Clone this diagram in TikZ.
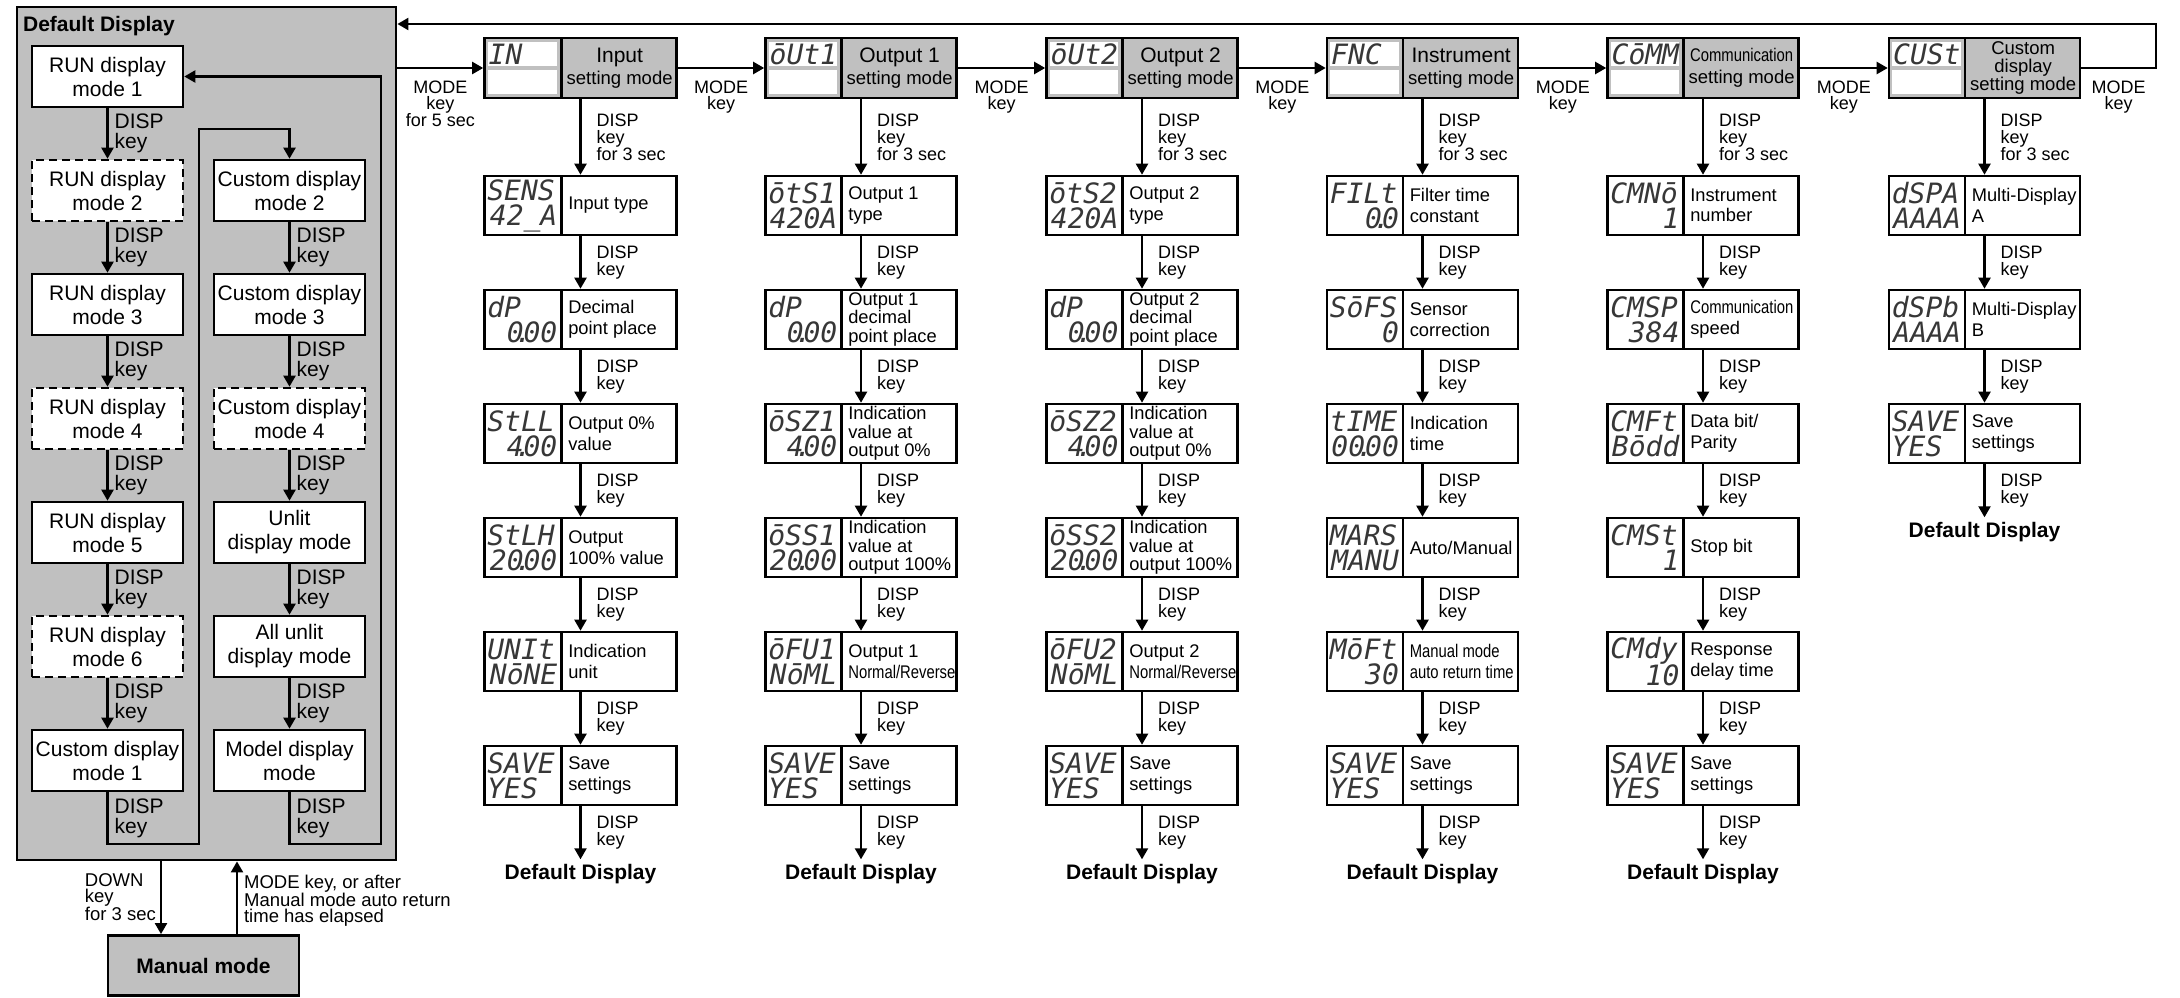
\documentclass[tikz,border=0pt]{standalone}
\usepackage{fontspec}
\setmainfont{Liberation Sans}
\newfontfamily\segfont{DejaVu Sans Mono}
\newfontfamily\narrowfont{Liberation Sans}[FakeStretch=0.81]
\usetikzlibrary{arrows.meta,positioning}
\definecolor{panelgray}{RGB}{192,192,192}
\definecolor{segink}{RGB}{55,55,55}
\setlength{\fboxsep}{0pt}

% widths of the current column (display cell, whole box)
\newcommand{\dispw}{76}
\newcommand{\boxw}{191}
\newcommand{\dpt}{\makebox[0pt]{.}}
\newcommand{\segtext}{\segfont\itshape\color{segink}}
\newcommand{\divider}[1]{$\vcenter{\hbox{\vrule width 2.6pt height #1pt}}$}
% display cell | description
\newcommand{\param}[4][r]{%
  \makebox[\dimexpr\dispw pt-1.3pt\relax]{\parbox[c][54pt][c]{\dimexpr\dispw pt-7pt\relax}{%
    \segtext\fontsize{28}{25}\selectfont #2\par\makebox[\linewidth][#1]{#3}}}%
  \divider{59}\hspace{5.5pt}%
  \parbox[c]{\dimexpr\boxw pt-\dispw pt-6.8pt\relax}{\raggedright #4}}
% header of a setting mode
\newcommand{\modehead}[2]{%
  \makebox[\dimexpr\dispw pt-1.3pt\relax]{$\vcenter{\offinterlineskip
    \hbox{\colorbox{white}{\parbox[c][24pt][c]{\dimexpr\dispw pt-7.6pt\relax}{\segtext\fontsize{28}{27}\selectfont\hspace*{1pt}#1}}}
    \kern4pt
    \hbox{\colorbox{white}{\rule{0pt}{24pt}\hspace*{\dimexpr\dispw pt-7.6pt\relax}}}}$}%
  \divider{60}%
  \parbox[c]{\dimexpr\boxw pt-\dispw pt-1.3pt\relax}{\centering #2}}

\begin{document}
\begin{tikzpicture}[x=1pt, y=-1pt, ->, >={Triangle[width=12pt,length=11pt]}, line width=2.2pt, node distance=52.4pt]
\tikzstyle{panel}=[draw, line width=2.8pt, fill=panelgray, inner sep=0pt, minimum width=379pt, minimum height=853pt]
\tikzstyle{runbox}=[draw, line width=2.6pt, fill=white, inner sep=0pt, minimum width=151pt, minimum height=61pt, align=center, font=\fontsize{21}{24}\selectfont]
\tikzstyle{optbox}=[runbox, dash pattern=on 8pt off 5pt]
\tikzstyle{manualbox}=[draw, line width=2.8pt, fill=panelgray, inner sep=0pt, minimum width=191pt, minimum height=60pt, font=\bfseries\fontsize{21}{24}\selectfont]
\tikzstyle{headbox}=[draw, line width=2.6pt, fill=panelgray, inner sep=0pt]
\tikzstyle{pbox}=[draw, line width=2.6pt, fill=white, inner sep=0pt, font=\fontsize{18.3}{20.5}\selectfont]
\tikzstyle{pkey}=[right, xshift=6pt, inner sep=0pt, align=left, font=\fontsize{21}{19.5}\selectfont]
\tikzstyle{dkey}=[right, xshift=15pt, inner sep=0pt, align=left, font=\fontsize{18}{17}\selectfont]
\tikzstyle{mkey}=[below, yshift=-12pt, inner sep=0pt, align=center, font=\fontsize{18}{15.5}\selectfont]
\tikzstyle{back}=[inner sep=4pt, font=\bfseries\fontsize{21}{24}\selectfont]
\tikzstyle{note}=[inner sep=0pt, align=left, font=\fontsize{18.5}{16}\selectfont]
\useasboundingbox (0,0) rectangle (2180,998);

% default display
\node[panel] (defdisp) at (206.5,433.5) {};
\node[anchor=west, inner sep=0pt, font=\bfseries\fontsize{21}{24}\selectfont] (ddtitle) at (22,26) {Default Display};
\node[runbox] (run1) at (107.5,76.5) {RUN display\\mode 1};
\node[optbox, below=50.4pt of run1] (run2) {RUN display\\mode 2};
\node[runbox, below=50.4pt of run2] (run3) {RUN display\\mode 3};
\node[optbox, below=50.4pt of run3] (run4) {RUN display\\mode 4};
\node[runbox, below=50.4pt of run4] (run5) {RUN display\\mode 5};
\node[optbox, below=50.4pt of run5] (run6) {RUN display\\mode 6};
\node[runbox, below=50.4pt of run6] (cus1) {Custom display\\mode 1};
\node[runbox, right=28.4pt of run2] (cus2) {Custom display\\mode 2};
\node[runbox, below=50.4pt of cus2] (cus3) {Custom display\\mode 3};
\node[optbox, below=50.4pt of cus3] (cus4) {Custom display\\mode 4};
\node[runbox, below=50.4pt of cus4] (unlit) {Unlit\\display mode};
\node[runbox, below=50.4pt of unlit] (allunlit) {All unlit\\display mode};
\node[runbox, below=50.4pt of allunlit] (model) {Model display\\mode};
\coordinate (lpA) at (199,844);
\coordinate (lpB) at (199,129);
\coordinate (lpC) at (381,844);
\draw (run1) -- node[pkey] {DISP\\key} (run2);
\draw (run2) -- node[pkey] {DISP\\key} (run3);
\draw (run3) -- node[pkey] {DISP\\key} (run4);
\draw (run4) -- node[pkey] {DISP\\key} (run5);
\draw (run5) -- node[pkey] {DISP\\key} (run6);
\draw (run6) -- node[pkey] {DISP\\key} (cus1);
\draw (cus1.south) -- node[pkey] {DISP\\key} (cus1.south |- lpA) -- (lpA) -- (lpB) -| (cus2.north);
\draw (cus2) -- node[pkey] {DISP\\key} (cus3);
\draw (cus3) -- node[pkey] {DISP\\key} (cus4);
\draw (cus4) -- node[pkey] {DISP\\key} (unlit);
\draw (unlit) -- node[pkey] {DISP\\key} (allunlit);
\draw (allunlit) -- node[pkey] {DISP\\key} (model);
\draw (model.south) -- node[pkey] {DISP\\key} (model.south |- lpC) -- (lpC) |- (run1.east);

% manual mode
\node[manualbox] (manual) at (203.5,965.5) {Manual mode};
\draw ([xshift=-42.5pt]manual.north |- defdisp.south) -- ([xshift=-42.5pt]manual.north);
\draw ([xshift=33.5pt]manual.north) -- ([xshift=33.5pt]manual.north |- defdisp.south);
\node[note, anchor=east] (downlbl) at (157,897) {DOWN\\key\\for 3 sec};
\node[note, anchor=west] (modelbl) at (243,901) {MODE key, or after\\Manual mode auto return\\time has elapsed};

% input setting mode
\renewcommand{\dispw}{77}\renewcommand{\boxw}{192}
\node[headbox] (inh) at (580.5,68) {\modehead{IN}{\fontsize{21}{22}\selectfont Input\\\fontsize{18.5}{22}\selectfont setting mode}};
\node[pbox, below=75.4pt of inh] (in1) {\param{SENS}{42\_A}{Input type}};
\node[pbox, below=of in1] (in2) {\param{dP}{0\dpt00}{Decimal\\point place}};
\node[pbox, below=of in2] (in3) {\param{StLL}{4\dpt00}{Output 0\%\\value}};
\node[pbox, below=of in3] (in4) {\param{StLH}{20\dpt00}{Output\\100\% value}};
\node[pbox, below=of in4] (in5) {\param{UNIt}{NōNE}{Indication\\unit}};
\node[pbox, below=of in5] (in6) {\param[l]{SAVE}{YES}{Save\\settings}};
\node[back, below=53pt of in6] (in7) {Default Display};
\draw (defdisp.east |- inh.west) -- node[mkey] {MODE\\key\\for 5 sec} (inh.west);
\draw (inh) -- node[dkey] {DISP\\key\\for 3 sec} (in1);
\draw (in1) -- node[dkey] {DISP\\key} (in2);
\draw (in2) -- node[dkey] {DISP\\key} (in3);
\draw (in3) -- node[dkey] {DISP\\key} (in4);
\draw (in4) -- node[dkey] {DISP\\key} (in5);
\draw (in5) -- node[dkey] {DISP\\key} (in6);
\draw (in6) -- node[dkey] {DISP\\key} (in7);

% output 1 setting mode
\renewcommand{\dispw}{76}\renewcommand{\boxw}{191}
\node[headbox] (oah) at (861,68) {\modehead{ōUt1}{\fontsize{21}{22}\selectfont Output 1\\\fontsize{18.5}{22}\selectfont setting mode}};
\node[pbox, below=75.4pt of oah] (oa1) {\param{ōtS1}{420A}{Output 1\\type}};
\node[pbox, below=of oa1] (oa2) {\param{dP}{0\dpt00}{\fontsize{18.3}{18.5}\selectfont Output 1\\decimal\\point place}};
\node[pbox, below=of oa2] (oa3) {\param{ōSZ1}{4\dpt00}{\fontsize{18.3}{18.5}\selectfont Indication\\value at\\output 0\%}};
\node[pbox, below=of oa3] (oa4) {\param{ōSS1}{20\dpt00}{\fontsize{18.3}{18.5}\selectfont Indication\\value at\\output 100\%}};
\node[pbox, below=of oa4] (oa5) {\param{ōFU1}{NōML}{Output 1\\\narrowfont Normal/Reverse}};
\node[pbox, below=of oa5] (oa6) {\param[l]{SAVE}{YES}{Save\\settings}};
\node[back, below=53pt of oa6] (oa7) {Default Display};
\draw (inh) -- node[mkey] {MODE\\key} (oah);
\draw (oah) -- node[dkey] {DISP\\key\\for 3 sec} (oa1);
\draw (oa1) -- node[dkey] {DISP\\key} (oa2);
\draw (oa2) -- node[dkey] {DISP\\key} (oa3);
\draw (oa3) -- node[dkey] {DISP\\key} (oa4);
\draw (oa4) -- node[dkey] {DISP\\key} (oa5);
\draw (oa5) -- node[dkey] {DISP\\key} (oa6);
\draw (oa6) -- node[dkey] {DISP\\key} (oa7);

% output 2 setting mode
\node[headbox] (obh) at (1142,68) {\modehead{ōUt2}{\fontsize{21}{22}\selectfont Output 2\\\fontsize{18.5}{22}\selectfont setting mode}};
\node[pbox, below=75.4pt of obh] (ob1) {\param{ōtS2}{420A}{Output 2\\type}};
\node[pbox, below=of ob1] (ob2) {\param{dP}{0\dpt00}{\fontsize{18.3}{18.5}\selectfont Output 2\\decimal\\point place}};
\node[pbox, below=of ob2] (ob3) {\param{ōSZ2}{4\dpt00}{\fontsize{18.3}{18.5}\selectfont Indication\\value at\\output 0\%}};
\node[pbox, below=of ob3] (ob4) {\param{ōSS2}{20\dpt00}{\fontsize{18.3}{18.5}\selectfont Indication\\value at\\output 100\%}};
\node[pbox, below=of ob4] (ob5) {\param{ōFU2}{NōML}{Output 2\\\narrowfont Normal/Reverse}};
\node[pbox, below=of ob5] (ob6) {\param[l]{SAVE}{YES}{Save\\settings}};
\node[back, below=53pt of ob6] (ob7) {Default Display};
\draw (oah) -- node[mkey] {MODE\\key} (obh);
\draw (obh) -- node[dkey] {DISP\\key\\for 3 sec} (ob1);
\draw (ob1) -- node[dkey] {DISP\\key} (ob2);
\draw (ob2) -- node[dkey] {DISP\\key} (ob3);
\draw (ob3) -- node[dkey] {DISP\\key} (ob4);
\draw (ob4) -- node[dkey] {DISP\\key} (ob5);
\draw (ob5) -- node[dkey] {DISP\\key} (ob6);
\draw (ob6) -- node[dkey] {DISP\\key} (ob7);

% instrument setting mode
\node[headbox] (fnh) at (1422.5,68) {\modehead{FNC}{\fontsize{21}{22}\selectfont Instrument\\\fontsize{18.5}{22}\selectfont setting mode}};
\node[pbox, below=75.4pt of fnh] (fn1) {\param{FILt}{0\dpt0}{Filter time\\constant}};
\node[pbox, below=of fn1] (fn2) {\param{SōFS}{0}{Sensor\\correction}};
\node[pbox, below=of fn2] (fn3) {\param{tIME}{00\dpt00}{Indication\\time}};
\node[pbox, below=of fn3] (fn4) {\param{MARS}{MANU}{Auto/Manual}};
\node[pbox, below=of fn4] (fn5) {\param{MōFt}{30}{\narrowfont Manual mode\\auto return time}};
\node[pbox, below=of fn5] (fn6) {\param[l]{SAVE}{YES}{Save\\settings}};
\node[back, below=53pt of fn6] (fn7) {Default Display};
\draw (obh) -- node[mkey] {MODE\\key} (fnh);
\draw (fnh) -- node[dkey] {DISP\\key\\for 3 sec} (fn1);
\draw (fn1) -- node[dkey] {DISP\\key} (fn2);
\draw (fn2) -- node[dkey] {DISP\\key} (fn3);
\draw (fn3) -- node[dkey] {DISP\\key} (fn4);
\draw (fn4) -- node[dkey] {DISP\\key} (fn5);
\draw (fn5) -- node[dkey] {DISP\\key} (fn6);
\draw (fn6) -- node[dkey] {DISP\\key} (fn7);

% communication setting mode
\node[headbox] (cmh) at (1703,68) {\modehead{CōMM}{\narrowfont\fontsize{18.3}{22}\selectfont Communication\\\rmfamily\fontsize{18.5}{22}\selectfont setting mode}};
\node[pbox, below=75.4pt of cmh] (cm1) {\param{CMNō}{1}{Instrument\\number}};
\node[pbox, below=of cm1] (cm2) {\param{CMSP}{384}{{\narrowfont Communication}\\speed}};
\node[pbox, below=of cm2] (cm3) {\param{CMFt}{Bōdd}{Data bit/\\Parity}};
\node[pbox, below=of cm3] (cm4) {\param{CMSt}{1}{Stop bit}};
\node[pbox, below=of cm4] (cm5) {\param{CMdy}{10}{Response\\delay time}};
\node[pbox, below=of cm5] (cm6) {\param[l]{SAVE}{YES}{Save\\settings}};
\node[back, below=53pt of cm6] (cm7) {Default Display};
\draw (fnh) -- node[mkey] {MODE\\key} (cmh);
\draw (cmh) -- node[dkey] {DISP\\key\\for 3 sec} (cm1);
\draw (cm1) -- node[dkey] {DISP\\key} (cm2);
\draw (cm2) -- node[dkey] {DISP\\key} (cm3);
\draw (cm3) -- node[dkey] {DISP\\key} (cm4);
\draw (cm4) -- node[dkey] {DISP\\key} (cm5);
\draw (cm5) -- node[dkey] {DISP\\key} (cm6);
\draw (cm6) -- node[dkey] {DISP\\key} (cm7);

% custom display setting mode
\node[headbox] (csh) at (1984.5,68) {\modehead{CUSt}{\fontsize{18.5}{18}\selectfont Custom\\display\\setting mode}};
\node[pbox, below=75.4pt of csh] (cs1) {\param{dSPA}{AAAA}{Multi-Display\\A}};
\node[pbox, below=of cs1] (cs2) {\param{dSPb}{AAAA}{Multi-Display\\B}};
\node[pbox, below=of cs2] (cs3) {\param[l]{SAVE}{YES}{Save\\settings}};
\node[back, below=53pt of cs3] (cs4) {Default Display};
\draw (cmh) -- node[mkey] {MODE\\key} (csh);
\draw (csh) -- node[dkey] {DISP\\key\\for 3 sec} (cs1);
\draw (cs1) -- node[dkey] {DISP\\key} (cs2);
\draw (cs2) -- node[dkey] {DISP\\key} (cs3);
\draw (cs3) -- node[dkey] {DISP\\key} (cs4);

% back to the default display
\coordinate (fb) at (2156,24);
\draw (csh.east) -- node[mkey] {MODE\\key} (csh.east -| fb) -- (fb) -- (fb -| defdisp.east);
\end{tikzpicture}
\end{document}
